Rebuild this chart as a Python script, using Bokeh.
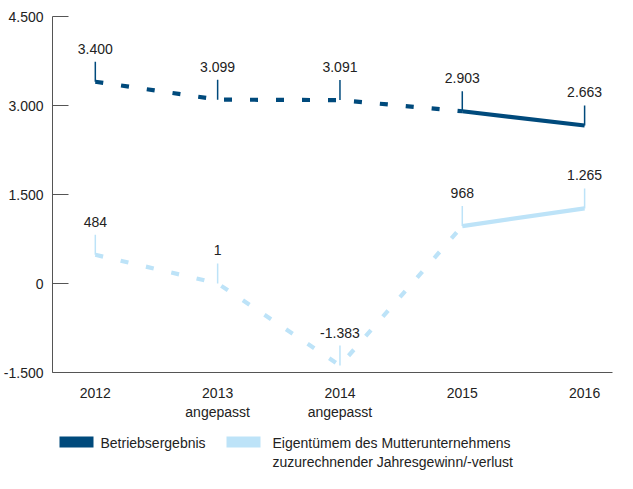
import math
from bokeh.plotting import figure
from bokeh.layouts import column
from bokeh.models import FixedTicker, Range1d
from bokeh.core.properties import value
from bokeh.embed import file_html
from bokeh.resources import INLINE

# ---- data ----
years = ["2012", "2013", "2014", "2015", "2016"]
year_notes = ["", "angepasst", "angepasst", "", ""]
betrieb = [3400, 3099, 3091, 2903, 2663]
eigen = [484, 1, -1383, 968, 1265]
betrieb_labels = ["3.400", "3.099", "3.091", "2.903", "2.663"]
eigen_labels = ["484", "1", "-1.383", "968", "1.265"]
y_ticks = [-1500, 0, 1500, 3000, 4500]
y_tick_labels = ["-1.500", "0", "1.500", "3.000", "4.500"]
series_names = ["Betriebsergebnis",
                "Eigentümem des Mutterunternehmens\nzuzurechnender Jahresgewinn/-verlust"]
n_dashed = 4  # first four years drawn dashed

DARK = "#004a7c"
LIGHT = "#bde3f8"
TXT = "#222222"
AXIS = "#555555"
FONT = "Liberation Sans"
W = 617
BL, BR = 52, 5

xs = list(range(len(years)))

p = figure(width=W, height=425,
           x_range=Range1d(-0.35, 4.228), y_range=Range1d(-1500, 4500),
           output_backend="svg", toolbar_location=None,
           min_border_left=BL, min_border_right=BR, min_border_top=16, min_border_bottom=53)
p.grid.visible = False
p.outline_line_color = None

# y axis
p.yaxis.ticker = FixedTicker(ticks=y_ticks)
p.yaxis.major_label_overrides = dict(zip(y_ticks, y_tick_labels))
p.yaxis.major_tick_in = 16
p.yaxis.major_tick_out = 0
p.yaxis.minor_tick_line_color = None
p.yaxis.axis_line_color = AXIS
p.yaxis.major_tick_line_color = AXIS
p.yaxis.major_label_text_font = FONT
p.yaxis.major_label_text_font_size = "14px"
p.yaxis.major_label_text_color = TXT
p.yaxis.major_label_standoff = 9

# x axis
p.xaxis.ticker = FixedTicker(ticks=xs)
p.xaxis.major_label_overrides = {i: (years[i] + ("\n" + year_notes[i] if year_notes[i] else ""))
                                 for i in xs}
p.xaxis.major_tick_in = 0
p.xaxis.major_tick_out = 0
p.xaxis.minor_tick_line_color = None
p.xaxis.axis_line_color = AXIS
p.xaxis.major_label_text_font = FONT
p.xaxis.major_label_text_font_size = "14px"
p.xaxis.major_label_text_color = TXT
p.xaxis.major_label_standoff = 12

# series lines
for vals, col in ((betrieb, DARK), (eigen, LIGHT)):
    p.line(xs[:n_dashed], vals[:n_dashed], line_color=col, line_width=4.2,
           line_dash="8 18", line_cap="butt")
    p.line(xs[n_dashed - 1:], vals[n_dashed - 1:], line_color=col, line_width=4.2,
           line_cap="butt")

# leader lines and value labels
for vals, labs, col in ((betrieb, betrieb_labels, DARK), (eigen, eigen_labels, LIGHT)):
    p.ray(x=xs, y=vals, length=20, angle=math.pi / 2, length_units="screen",
          line_color=col, line_width=1.5)
    p.text(x=xs, y=vals, text=labs, text_align="center", text_baseline="middle",
           y_offset=-33, text_font=value(FONT), text_font_size="14px", text_color=TXT)

# legend (drawn in its own small strip below the chart; coordinates = canvas pixels)
LH = 48
leg = figure(width=W, height=LH, x_range=Range1d(BL, W - BR), y_range=Range1d(LH, 0),
             output_backend="svg", toolbar_location=None,
             min_border_left=BL, min_border_right=BR,
             min_border_top=0, min_border_bottom=0)
leg.axis.visible = False
leg.grid.visible = False
leg.outline_line_color = None

name2_lines = series_names[1].split("\n")
leg.quad(left=[59, 226], right=[93, 260], top=[11, 11], bottom=[22, 22],
         fill_color=[DARK, LIGHT], line_color=None)
leg.text(x=[100, 272, 272], y=[17, 17, 36],
         text=[series_names[0], name2_lines[0], name2_lines[1]],
         text_baseline="middle", text_align="left",
         text_font=value(FONT), text_font_size="14px", text_color=TXT)

layout = column(p, leg, spacing=0)
open("out.html", "w").write(file_html(layout, INLINE))
